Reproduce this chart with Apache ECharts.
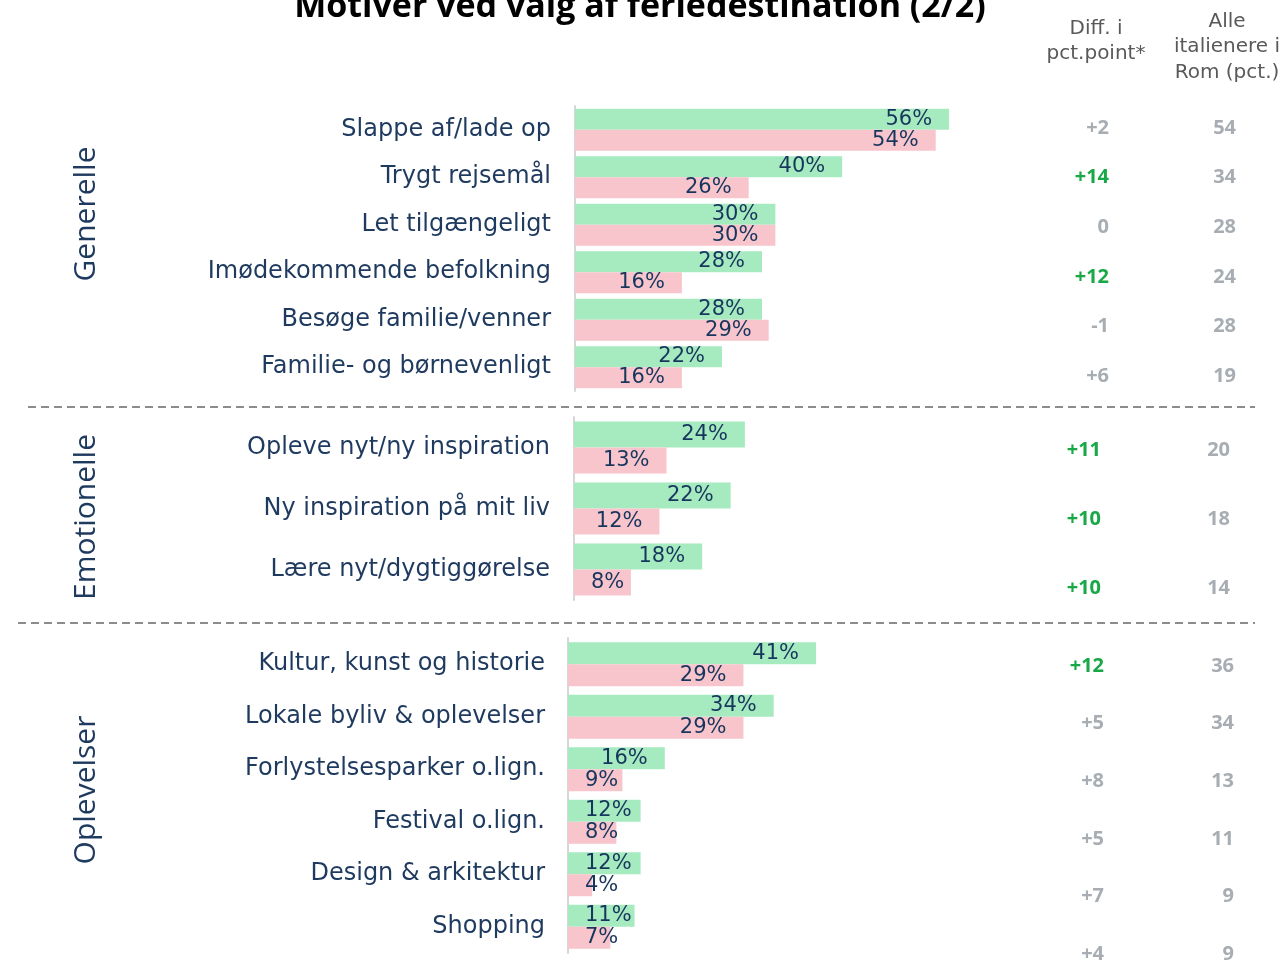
<!DOCTYPE html>
<html>
<head>
<meta charset="utf-8">
<script src="https://cdn.jsdelivr.net/npm/echarts@6/dist/echarts.min.js"></script>
<style>
  html, body { margin: 0; padding: 0; background: #fff; }
  #main { width: 1286px; height: 963px; }
</style>
</head>
<body>
<div id="main"></div>
<script>
// Generelle
var catGenerelle = ['Slappe af/lade op', 'Trygt rejsemål', 'Let tilgængeligt', 'Imødekommende befolkning', 'Besøge familie/venner', 'Familie- og børnevenligt'];
var greenGenerelle = [56, 40, 30, 28, 28, 22];
var pinkGenerelle = [54, 26, 30, 16, 29, 16];
var diffGenerelle = ['+2', '+14', '0', '+12', '-1', '+6'];
var alleGenerelle = [54, 34, 28, 24, 28, 19];

// Emotionelle
var catEmotionelle = ['Opleve nyt/ny inspiration', 'Ny inspiration på mit liv', 'Lære nyt/dygtiggørelse'];
var greenEmotionelle = [24, 22, 18];
var pinkEmotionelle = [13, 12, 8];
var diffEmotionelle = ['+11', '+10', '+10'];
var alleEmotionelle = [20, 18, 14];

// Oplevelser
var catOplevelser = ['Kultur, kunst og historie', 'Lokale byliv & oplevelser', 'Forlystelsesparker o.lign.', 'Festival o.lign.', 'Design & arkitektur', 'Shopping'];
var greenOplevelser = [41, 34, 16, 12, 12, 11];
var pinkOplevelser = [29, 29, 9, 8, 4, 7];
var diffOplevelser = ['+12', '+5', '+8', '+5', '+7', '+4'];
var alleOplevelser = [36, 34, 13, 11, 9, 9];

var FONT = '"Open Sans", "Noto Sans", sans-serif';
var WIDE = '"DejaVu Sans", "Open Sans", sans-serif';
var NAVY = '#1f3a5f';
var GREEN = '#a6eabf';
var PINK = '#f9c5cd';

// layout of the three panels (px per percent = scale)
var panels = [
  { cats: catGenerelle, green: greenGenerelle, pink: pinkGenerelle, diff: diffGenerelle, alle: alleGenerelle,
    left: 575, top: 106, height: 285, scale: 6.68, barWidth: 21, labelMargin: 24,
    rowY: 128, rowStep: 49.6, diffX: 1109, alleX: 1236, title: 'Generelle', titleY: 214 },
  { cats: catEmotionelle, green: greenEmotionelle, pink: pinkEmotionelle, diff: diffEmotionelle, alle: alleEmotionelle,
    left: 574, top: 417, height: 183, scale: 7.35, barWidth: 26, labelMargin: 24,
    rowY: 450, rowStep: 69, diffX: 1101, alleX: 1230, title: 'Emotionelle', titleY: 517 },
  { cats: catOplevelser, green: greenOplevelser, pink: pinkOplevelser, diff: diffOplevelser, alle: alleOplevelser,
    left: 568, top: 638, height: 315, scale: 6.05, barWidth: 22, labelMargin: 23,
    rowY: 666, rowStep: 57.6, diffX: 1104, alleX: 1234, title: 'Oplevelser', titleY: 790 }
];

function barData(values, scale) {
  return values.map(function (v) {
    var textW = (String(v).length + 1) * 14;
    var small = v * scale < textW + 34;
    return { value: v, label: { position: small ? 'insideLeft' : 'insideRight' } };
  });
}

var grids = [], xAxes = [], yAxes = [], series = [], graphics = [];

panels.forEach(function (p, i) {
  grids.push({ left: p.left, top: p.top, width: p.scale * 100, height: p.height });
  xAxes.push({ type: 'value', gridIndex: i, min: 0, max: 100, show: false });
  yAxes.push({
    type: 'category',
    gridIndex: i,
    inverse: true,
    data: p.cats,
    axisLine: { lineStyle: { color: '#d6d6d6', width: 2 } },
    axisTick: { show: false },
    axisLabel: { fontFamily: WIDE, fontSize: 24, color: NAVY, margin: p.labelMargin }
  });
  var label = { show: true, formatter: '{c}%', color: '#17365d', fontFamily: WIDE, fontSize: 21, distance: 17 };
  series.push({
    type: 'bar', xAxisIndex: i, yAxisIndex: i, barWidth: p.barWidth, barGap: '0%',
    itemStyle: { color: GREEN }, label: label, data: barData(p.green, p.scale)
  });
  series.push({
    type: 'bar', xAxisIndex: i, yAxisIndex: i, barWidth: p.barWidth, barGap: '0%',
    itemStyle: { color: PINK }, label: label, data: barData(p.pink, p.scale)
  });

  // rotated group title
  graphics.push({
    type: 'text', x: 86, y: p.titleY, rotation: Math.PI / 2,
    style: { text: p.title, fontFamily: FONT, fontSize: 30, fill: NAVY, align: 'center', verticalAlign: 'middle' }
  });

  // right-hand columns
  p.diff.forEach(function (d, k) {
    var n = parseInt(d, 10);
    graphics.push({
      type: 'text', x: p.diffX, y: p.rowY + k * p.rowStep,
      style: { text: d, fontFamily: FONT, fontSize: 20, fontWeight: 'bold',
        fill: n >= 10 ? '#18a846' : '#a7adb2', align: 'right', verticalAlign: 'middle' }
    });
  });
  p.alle.forEach(function (a, k) {
    graphics.push({
      type: 'text', x: p.alleX, y: p.rowY + k * p.rowStep,
      style: { text: String(a), fontFamily: FONT, fontSize: 20, fontWeight: 'bold',
        fill: '#a7adb2', align: 'right', verticalAlign: 'middle' }
    });
  });
});

// title, column headers, separators
graphics.push(
  { type: 'text', x: 640, y: 7,
    style: { text: 'Motiver ved valg af feriedestination (2/2)', fontFamily: FONT, fontSize: 34, fontWeight: 'bold',
      fill: '#000', align: 'center', verticalAlign: 'middle' } },
  { type: 'text', x: 1096, y: 41,
    style: { text: 'Diff. i\npct.point*', fontFamily: WIDE, fontSize: 20, lineHeight: 25, fill: '#595959',
      align: 'center', verticalAlign: 'middle' } },
  { type: 'text', x: 1227, y: 47,
    style: { text: 'Alle\nitalienere i\nRom (pct.)', fontFamily: WIDE, fontSize: 20, lineHeight: 25.5, fill: '#595959',
      align: 'center', verticalAlign: 'middle' } },
  { type: 'line', shape: { x1: 28, y1: 407, x2: 1255, y2: 407 },
    style: { stroke: '#8c8c8c', lineWidth: 2, lineDash: [8, 5] } },
  { type: 'line', shape: { x1: 18, y1: 623, x2: 1255, y2: 623 },
    style: { stroke: '#8c8c8c', lineWidth: 2, lineDash: [8, 5] } }
);

var myChart = echarts.init(document.getElementById('main'));
myChart.setOption({
  animation: false,
  grid: grids,
  xAxis: xAxes,
  yAxis: yAxes,
  series: series,
  graphic: graphics
});
</script>
</body>
</html>
